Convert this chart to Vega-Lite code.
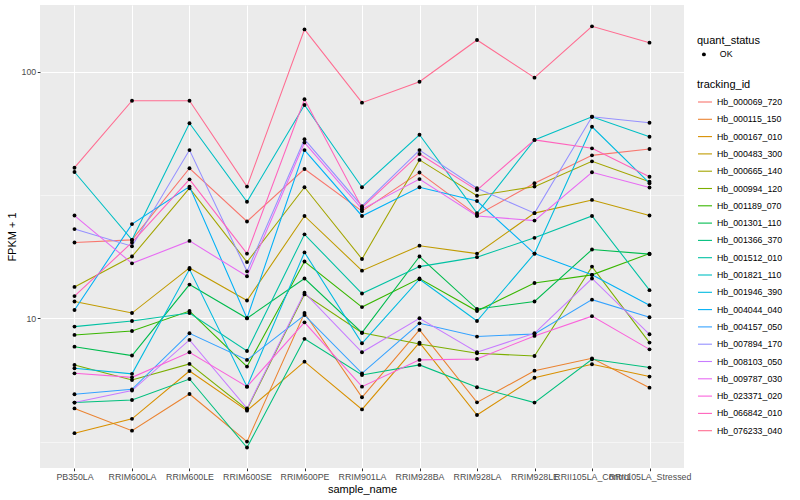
{
"$schema": "https://vega.github.io/schema/vega-lite/v6.json",
"width": 644, "height": 463,
"autosize": {"type": "none"},
"padding": {"left": 40, "top": 5, "right": 116, "bottom": 32},
"background": "white",
"config": {
  "view": {"fill": "#EBEBEB", "stroke": null},
  "font": "Liberation Sans",
  "axis": {"labelFont": "Liberation Sans", "labelFontSize": 8.8, "labelColor": "#4D4D4D", "titleFont": "Liberation Sans", "titleFontSize": 11, "titleFontWeight": "normal", "titleColor": "black", "tickColor": "#333333", "tickSize": 2.75, "tickWidth": 1, "domain": false, "gridColor": "white"},
  "legend": {"labelFont": "Liberation Sans", "labelFontSize": 8.8, "labelColor": "black", "titleFont": "Liberation Sans", "titleFontSize": 11, "titleFontWeight": "normal", "titleColor": "black", "padding": 0, "rowPadding": 4.3, "labelOffset": 4, "titlePadding": 4}
},
"data": {"values": [
{"tracking_id":"Hb_000069_720","sample_name":"PB350LA","fpkm":20.3,"quant_status":"OK"},
{"tracking_id":"Hb_000069_720","sample_name":"RRIM600LA","fpkm":20.8,"quant_status":"OK"},
{"tracking_id":"Hb_000069_720","sample_name":"RRIM600LE","fpkm":40.6,"quant_status":"OK"},
{"tracking_id":"Hb_000069_720","sample_name":"RRIM600SE","fpkm":24.7,"quant_status":"OK"},
{"tracking_id":"Hb_000069_720","sample_name":"RRIM600PE","fpkm":40.3,"quant_status":"OK"},
{"tracking_id":"Hb_000069_720","sample_name":"RRIM901LA","fpkm":27.2,"quant_status":"OK"},
{"tracking_id":"Hb_000069_720","sample_name":"RRIM928BA","fpkm":39.0,"quant_status":"OK"},
{"tracking_id":"Hb_000069_720","sample_name":"RRIM928LA","fpkm":26.2,"quant_status":"OK"},
{"tracking_id":"Hb_000069_720","sample_name":"RRIM928LE","fpkm":35.3,"quant_status":"OK"},
{"tracking_id":"Hb_000069_720","sample_name":"RRII105LA_Control","fpkm":45.8,"quant_status":"OK"},
{"tracking_id":"Hb_000069_720","sample_name":"RRII105LA_Stressed","fpkm":48.6,"quant_status":"OK"},
{"tracking_id":"Hb_000115_150","sample_name":"PB350LA","fpkm":4.31,"quant_status":"OK"},
{"tracking_id":"Hb_000115_150","sample_name":"RRIM600LA","fpkm":3.50,"quant_status":"OK"},
{"tracking_id":"Hb_000115_150","sample_name":"RRIM600LE","fpkm":4.93,"quant_status":"OK"},
{"tracking_id":"Hb_000115_150","sample_name":"RRIM600SE","fpkm":3.16,"quant_status":"OK"},
{"tracking_id":"Hb_000115_150","sample_name":"RRIM600PE","fpkm":10.5,"quant_status":"OK"},
{"tracking_id":"Hb_000115_150","sample_name":"RRIM901LA","fpkm":4.78,"quant_status":"OK"},
{"tracking_id":"Hb_000115_150","sample_name":"RRIM928BA","fpkm":8.97,"quant_status":"OK"},
{"tracking_id":"Hb_000115_150","sample_name":"RRIM928LA","fpkm":4.56,"quant_status":"OK"},
{"tracking_id":"Hb_000115_150","sample_name":"RRIM928LE","fpkm":6.13,"quant_status":"OK"},
{"tracking_id":"Hb_000115_150","sample_name":"RRII105LA_Control","fpkm":6.88,"quant_status":"OK"},
{"tracking_id":"Hb_000115_150","sample_name":"RRII105LA_Stressed","fpkm":5.23,"quant_status":"OK"},
{"tracking_id":"Hb_000167_010","sample_name":"PB350LA","fpkm":3.42,"quant_status":"OK"},
{"tracking_id":"Hb_000167_010","sample_name":"RRIM600LA","fpkm":3.91,"quant_status":"OK"},
{"tracking_id":"Hb_000167_010","sample_name":"RRIM600LE","fpkm":6.11,"quant_status":"OK"},
{"tracking_id":"Hb_000167_010","sample_name":"RRIM600SE","fpkm":4.22,"quant_status":"OK"},
{"tracking_id":"Hb_000167_010","sample_name":"RRIM600PE","fpkm":6.67,"quant_status":"OK"},
{"tracking_id":"Hb_000167_010","sample_name":"RRIM901LA","fpkm":4.27,"quant_status":"OK"},
{"tracking_id":"Hb_000167_010","sample_name":"RRIM928BA","fpkm":7.97,"quant_status":"OK"},
{"tracking_id":"Hb_000167_010","sample_name":"RRIM928LA","fpkm":4.05,"quant_status":"OK"},
{"tracking_id":"Hb_000167_010","sample_name":"RRIM928LE","fpkm":5.74,"quant_status":"OK"},
{"tracking_id":"Hb_000167_010","sample_name":"RRII105LA_Control","fpkm":6.51,"quant_status":"OK"},
{"tracking_id":"Hb_000167_010","sample_name":"RRII105LA_Stressed","fpkm":5.80,"quant_status":"OK"},
{"tracking_id":"Hb_000483_300","sample_name":"PB350LA","fpkm":11.7,"quant_status":"OK"},
{"tracking_id":"Hb_000483_300","sample_name":"RRIM600LA","fpkm":10.5,"quant_status":"OK"},
{"tracking_id":"Hb_000483_300","sample_name":"RRIM600LE","fpkm":16.0,"quant_status":"OK"},
{"tracking_id":"Hb_000483_300","sample_name":"RRIM600SE","fpkm":11.8,"quant_status":"OK"},
{"tracking_id":"Hb_000483_300","sample_name":"RRIM600PE","fpkm":26.0,"quant_status":"OK"},
{"tracking_id":"Hb_000483_300","sample_name":"RRIM901LA","fpkm":15.6,"quant_status":"OK"},
{"tracking_id":"Hb_000483_300","sample_name":"RRIM928BA","fpkm":19.7,"quant_status":"OK"},
{"tracking_id":"Hb_000483_300","sample_name":"RRIM928LA","fpkm":18.3,"quant_status":"OK"},
{"tracking_id":"Hb_000483_300","sample_name":"RRIM928LE","fpkm":26.7,"quant_status":"OK"},
{"tracking_id":"Hb_000483_300","sample_name":"RRII105LA_Control","fpkm":30.2,"quant_status":"OK"},
{"tracking_id":"Hb_000483_300","sample_name":"RRII105LA_Stressed","fpkm":26.1,"quant_status":"OK"},
{"tracking_id":"Hb_000665_140","sample_name":"PB350LA","fpkm":13.4,"quant_status":"OK"},
{"tracking_id":"Hb_000665_140","sample_name":"RRIM600LA","fpkm":17.8,"quant_status":"OK"},
{"tracking_id":"Hb_000665_140","sample_name":"RRIM600LE","fpkm":33.7,"quant_status":"OK"},
{"tracking_id":"Hb_000665_140","sample_name":"RRIM600SE","fpkm":16.9,"quant_status":"OK"},
{"tracking_id":"Hb_000665_140","sample_name":"RRIM600PE","fpkm":34.0,"quant_status":"OK"},
{"tracking_id":"Hb_000665_140","sample_name":"RRIM901LA","fpkm":17.4,"quant_status":"OK"},
{"tracking_id":"Hb_000665_140","sample_name":"RRIM928BA","fpkm":43.9,"quant_status":"OK"},
{"tracking_id":"Hb_000665_140","sample_name":"RRIM928LA","fpkm":31.4,"quant_status":"OK"},
{"tracking_id":"Hb_000665_140","sample_name":"RRIM928LE","fpkm":34.2,"quant_status":"OK"},
{"tracking_id":"Hb_000665_140","sample_name":"RRII105LA_Control","fpkm":43.3,"quant_status":"OK"},
{"tracking_id":"Hb_000665_140","sample_name":"RRII105LA_Stressed","fpkm":35.8,"quant_status":"OK"},
{"tracking_id":"Hb_000994_120","sample_name":"PB350LA","fpkm":6.47,"quant_status":"OK"},
{"tracking_id":"Hb_000994_120","sample_name":"RRIM600LA","fpkm":5.62,"quant_status":"OK"},
{"tracking_id":"Hb_000994_120","sample_name":"RRIM600LE","fpkm":6.53,"quant_status":"OK"},
{"tracking_id":"Hb_000994_120","sample_name":"RRIM600SE","fpkm":4.27,"quant_status":"OK"},
{"tracking_id":"Hb_000994_120","sample_name":"RRIM600PE","fpkm":12.5,"quant_status":"OK"},
{"tracking_id":"Hb_000994_120","sample_name":"RRIM901LA","fpkm":8.74,"quant_status":"OK"},
{"tracking_id":"Hb_000994_120","sample_name":"RRIM928BA","fpkm":7.87,"quant_status":"OK"},
{"tracking_id":"Hb_000994_120","sample_name":"RRIM928LA","fpkm":7.21,"quant_status":"OK"},
{"tracking_id":"Hb_000994_120","sample_name":"RRIM928LE","fpkm":7.03,"quant_status":"OK"},
{"tracking_id":"Hb_000994_120","sample_name":"RRII105LA_Control","fpkm":16.2,"quant_status":"OK"},
{"tracking_id":"Hb_000994_120","sample_name":"RRII105LA_Stressed","fpkm":7.97,"quant_status":"OK"},
{"tracking_id":"Hb_001189_070","sample_name":"PB350LA","fpkm":8.56,"quant_status":"OK"},
{"tracking_id":"Hb_001189_070","sample_name":"RRIM600LA","fpkm":8.88,"quant_status":"OK"},
{"tracking_id":"Hb_001189_070","sample_name":"RRIM600LE","fpkm":10.7,"quant_status":"OK"},
{"tracking_id":"Hb_001189_070","sample_name":"RRIM600SE","fpkm":6.37,"quant_status":"OK"},
{"tracking_id":"Hb_001189_070","sample_name":"RRIM600PE","fpkm":17.0,"quant_status":"OK"},
{"tracking_id":"Hb_001189_070","sample_name":"RRIM901LA","fpkm":11.1,"quant_status":"OK"},
{"tracking_id":"Hb_001189_070","sample_name":"RRIM928BA","fpkm":14.5,"quant_status":"OK"},
{"tracking_id":"Hb_001189_070","sample_name":"RRIM928LA","fpkm":10.7,"quant_status":"OK"},
{"tracking_id":"Hb_001189_070","sample_name":"RRIM928LE","fpkm":13.9,"quant_status":"OK"},
{"tracking_id":"Hb_001189_070","sample_name":"RRII105LA_Control","fpkm":15.0,"quant_status":"OK"},
{"tracking_id":"Hb_001189_070","sample_name":"RRII105LA_Stressed","fpkm":18.3,"quant_status":"OK"},
{"tracking_id":"Hb_001301_110","sample_name":"PB350LA","fpkm":7.67,"quant_status":"OK"},
{"tracking_id":"Hb_001301_110","sample_name":"RRIM600LA","fpkm":7.06,"quant_status":"OK"},
{"tracking_id":"Hb_001301_110","sample_name":"RRIM600LE","fpkm":13.7,"quant_status":"OK"},
{"tracking_id":"Hb_001301_110","sample_name":"RRIM600SE","fpkm":10.0,"quant_status":"OK"},
{"tracking_id":"Hb_001301_110","sample_name":"RRIM600PE","fpkm":14.5,"quant_status":"OK"},
{"tracking_id":"Hb_001301_110","sample_name":"RRIM901LA","fpkm":8.74,"quant_status":"OK"},
{"tracking_id":"Hb_001301_110","sample_name":"RRIM928BA","fpkm":17.8,"quant_status":"OK"},
{"tracking_id":"Hb_001301_110","sample_name":"RRIM928LA","fpkm":10.9,"quant_status":"OK"},
{"tracking_id":"Hb_001301_110","sample_name":"RRIM928LE","fpkm":11.7,"quant_status":"OK"},
{"tracking_id":"Hb_001301_110","sample_name":"RRII105LA_Control","fpkm":19.0,"quant_status":"OK"},
{"tracking_id":"Hb_001301_110","sample_name":"RRII105LA_Stressed","fpkm":18.2,"quant_status":"OK"},
{"tracking_id":"Hb_001366_370","sample_name":"PB350LA","fpkm":4.55,"quant_status":"OK"},
{"tracking_id":"Hb_001366_370","sample_name":"RRIM600LA","fpkm":4.66,"quant_status":"OK"},
{"tracking_id":"Hb_001366_370","sample_name":"RRIM600LE","fpkm":5.67,"quant_status":"OK"},
{"tracking_id":"Hb_001366_370","sample_name":"RRIM600SE","fpkm":2.99,"quant_status":"OK"},
{"tracking_id":"Hb_001366_370","sample_name":"RRIM600PE","fpkm":8.25,"quant_status":"OK"},
{"tracking_id":"Hb_001366_370","sample_name":"RRIM901LA","fpkm":5.89,"quant_status":"OK"},
{"tracking_id":"Hb_001366_370","sample_name":"RRIM928BA","fpkm":6.47,"quant_status":"OK"},
{"tracking_id":"Hb_001366_370","sample_name":"RRIM928LA","fpkm":5.25,"quant_status":"OK"},
{"tracking_id":"Hb_001366_370","sample_name":"RRIM928LE","fpkm":4.55,"quant_status":"OK"},
{"tracking_id":"Hb_001366_370","sample_name":"RRII105LA_Control","fpkm":6.82,"quant_status":"OK"},
{"tracking_id":"Hb_001366_370","sample_name":"RRII105LA_Stressed","fpkm":6.31,"quant_status":"OK"},
{"tracking_id":"Hb_001512_010","sample_name":"PB350LA","fpkm":9.25,"quant_status":"OK"},
{"tracking_id":"Hb_001512_010","sample_name":"RRIM600LA","fpkm":9.75,"quant_status":"OK"},
{"tracking_id":"Hb_001512_010","sample_name":"RRIM600LE","fpkm":10.5,"quant_status":"OK"},
{"tracking_id":"Hb_001512_010","sample_name":"RRIM600SE","fpkm":7.37,"quant_status":"OK"},
{"tracking_id":"Hb_001512_010","sample_name":"RRIM600PE","fpkm":21.9,"quant_status":"OK"},
{"tracking_id":"Hb_001512_010","sample_name":"RRIM901LA","fpkm":12.6,"quant_status":"OK"},
{"tracking_id":"Hb_001512_010","sample_name":"RRIM928BA","fpkm":16.2,"quant_status":"OK"},
{"tracking_id":"Hb_001512_010","sample_name":"RRIM928LA","fpkm":17.7,"quant_status":"OK"},
{"tracking_id":"Hb_001512_010","sample_name":"RRIM928LE","fpkm":21.2,"quant_status":"OK"},
{"tracking_id":"Hb_001512_010","sample_name":"RRII105LA_Control","fpkm":26.0,"quant_status":"OK"},
{"tracking_id":"Hb_001512_010","sample_name":"RRII105LA_Stressed","fpkm":13.0,"quant_status":"OK"},
{"tracking_id":"Hb_001821_110","sample_name":"PB350LA","fpkm":39.2,"quant_status":"OK"},
{"tracking_id":"Hb_001821_110","sample_name":"RRIM600LA","fpkm":20.8,"quant_status":"OK"},
{"tracking_id":"Hb_001821_110","sample_name":"RRIM600LE","fpkm":61.8,"quant_status":"OK"},
{"tracking_id":"Hb_001821_110","sample_name":"RRIM600SE","fpkm":29.7,"quant_status":"OK"},
{"tracking_id":"Hb_001821_110","sample_name":"RRIM600PE","fpkm":73.3,"quant_status":"OK"},
{"tracking_id":"Hb_001821_110","sample_name":"RRIM901LA","fpkm":34.0,"quant_status":"OK"},
{"tracking_id":"Hb_001821_110","sample_name":"RRIM928BA","fpkm":55.5,"quant_status":"OK"},
{"tracking_id":"Hb_001821_110","sample_name":"RRIM928LA","fpkm":26.7,"quant_status":"OK"},
{"tracking_id":"Hb_001821_110","sample_name":"RRIM928LE","fpkm":52.9,"quant_status":"OK"},
{"tracking_id":"Hb_001821_110","sample_name":"RRII105LA_Control","fpkm":65.7,"quant_status":"OK"},
{"tracking_id":"Hb_001821_110","sample_name":"RRII105LA_Stressed","fpkm":54.5,"quant_status":"OK"},
{"tracking_id":"Hb_001946_390","sample_name":"PB350LA","fpkm":6.27,"quant_status":"OK"},
{"tracking_id":"Hb_001946_390","sample_name":"RRIM600LA","fpkm":5.95,"quant_status":"OK"},
{"tracking_id":"Hb_001946_390","sample_name":"RRIM600LE","fpkm":15.8,"quant_status":"OK"},
{"tracking_id":"Hb_001946_390","sample_name":"RRIM600SE","fpkm":5.28,"quant_status":"OK"},
{"tracking_id":"Hb_001946_390","sample_name":"RRIM600PE","fpkm":18.5,"quant_status":"OK"},
{"tracking_id":"Hb_001946_390","sample_name":"RRIM901LA","fpkm":7.92,"quant_status":"OK"},
{"tracking_id":"Hb_001946_390","sample_name":"RRIM928BA","fpkm":14.4,"quant_status":"OK"},
{"tracking_id":"Hb_001946_390","sample_name":"RRIM928LA","fpkm":9.75,"quant_status":"OK"},
{"tracking_id":"Hb_001946_390","sample_name":"RRIM928LE","fpkm":18.3,"quant_status":"OK"},
{"tracking_id":"Hb_001946_390","sample_name":"RRII105LA_Control","fpkm":59.8,"quant_status":"OK"},
{"tracking_id":"Hb_001946_390","sample_name":"RRII105LA_Stressed","fpkm":35.3,"quant_status":"OK"},
{"tracking_id":"Hb_004044_040","sample_name":"PB350LA","fpkm":10.8,"quant_status":"OK"},
{"tracking_id":"Hb_004044_040","sample_name":"RRIM600LA","fpkm":24.1,"quant_status":"OK"},
{"tracking_id":"Hb_004044_040","sample_name":"RRIM600LE","fpkm":34.2,"quant_status":"OK"},
{"tracking_id":"Hb_004044_040","sample_name":"RRIM600SE","fpkm":10.0,"quant_status":"OK"},
{"tracking_id":"Hb_004044_040","sample_name":"RRIM600PE","fpkm":48.1,"quant_status":"OK"},
{"tracking_id":"Hb_004044_040","sample_name":"RRIM901LA","fpkm":26.0,"quant_status":"OK"},
{"tracking_id":"Hb_004044_040","sample_name":"RRIM928BA","fpkm":34.0,"quant_status":"OK"},
{"tracking_id":"Hb_004044_040","sample_name":"RRIM928LA","fpkm":29.9,"quant_status":"OK"},
{"tracking_id":"Hb_004044_040","sample_name":"RRIM928LE","fpkm":18.3,"quant_status":"OK"},
{"tracking_id":"Hb_004044_040","sample_name":"RRII105LA_Control","fpkm":15.0,"quant_status":"OK"},
{"tracking_id":"Hb_004044_040","sample_name":"RRII105LA_Stressed","fpkm":11.3,"quant_status":"OK"},
{"tracking_id":"Hb_004157_050","sample_name":"PB350LA","fpkm":4.92,"quant_status":"OK"},
{"tracking_id":"Hb_004157_050","sample_name":"RRIM600LA","fpkm":5.15,"quant_status":"OK"},
{"tracking_id":"Hb_004157_050","sample_name":"RRIM600LE","fpkm":8.69,"quant_status":"OK"},
{"tracking_id":"Hb_004157_050","sample_name":"RRIM600SE","fpkm":6.78,"quant_status":"OK"},
{"tracking_id":"Hb_004157_050","sample_name":"RRIM600PE","fpkm":10.3,"quant_status":"OK"},
{"tracking_id":"Hb_004157_050","sample_name":"RRIM901LA","fpkm":5.98,"quant_status":"OK"},
{"tracking_id":"Hb_004157_050","sample_name":"RRIM928BA","fpkm":9.54,"quant_status":"OK"},
{"tracking_id":"Hb_004157_050","sample_name":"RRIM928LA","fpkm":8.43,"quant_status":"OK"},
{"tracking_id":"Hb_004157_050","sample_name":"RRIM928LE","fpkm":8.64,"quant_status":"OK"},
{"tracking_id":"Hb_004157_050","sample_name":"RRII105LA_Control","fpkm":11.9,"quant_status":"OK"},
{"tracking_id":"Hb_004157_050","sample_name":"RRII105LA_Stressed","fpkm":10.1,"quant_status":"OK"},
{"tracking_id":"Hb_007894_170","sample_name":"PB350LA","fpkm":23.0,"quant_status":"OK"},
{"tracking_id":"Hb_007894_170","sample_name":"RRIM600LA","fpkm":19.6,"quant_status":"OK"},
{"tracking_id":"Hb_007894_170","sample_name":"RRIM600LE","fpkm":48.1,"quant_status":"OK"},
{"tracking_id":"Hb_007894_170","sample_name":"RRIM600SE","fpkm":15.5,"quant_status":"OK"},
{"tracking_id":"Hb_007894_170","sample_name":"RRIM600PE","fpkm":53.2,"quant_status":"OK"},
{"tracking_id":"Hb_007894_170","sample_name":"RRIM901LA","fpkm":28.5,"quant_status":"OK"},
{"tracking_id":"Hb_007894_170","sample_name":"RRIM928BA","fpkm":48.1,"quant_status":"OK"},
{"tracking_id":"Hb_007894_170","sample_name":"RRIM928LA","fpkm":33.7,"quant_status":"OK"},
{"tracking_id":"Hb_007894_170","sample_name":"RRIM928LE","fpkm":26.7,"quant_status":"OK"},
{"tracking_id":"Hb_007894_170","sample_name":"RRII105LA_Control","fpkm":65.7,"quant_status":"OK"},
{"tracking_id":"Hb_007894_170","sample_name":"RRII105LA_Stressed","fpkm":62.1,"quant_status":"OK"},
{"tracking_id":"Hb_008103_050","sample_name":"PB350LA","fpkm":4.55,"quant_status":"OK"},
{"tracking_id":"Hb_008103_050","sample_name":"RRIM600LA","fpkm":5.09,"quant_status":"OK"},
{"tracking_id":"Hb_008103_050","sample_name":"RRIM600LE","fpkm":8.17,"quant_status":"OK"},
{"tracking_id":"Hb_008103_050","sample_name":"RRIM600SE","fpkm":4.31,"quant_status":"OK"},
{"tracking_id":"Hb_008103_050","sample_name":"RRIM600PE","fpkm":12.7,"quant_status":"OK"},
{"tracking_id":"Hb_008103_050","sample_name":"RRIM901LA","fpkm":7.28,"quant_status":"OK"},
{"tracking_id":"Hb_008103_050","sample_name":"RRIM928BA","fpkm":10.0,"quant_status":"OK"},
{"tracking_id":"Hb_008103_050","sample_name":"RRIM928LA","fpkm":7.28,"quant_status":"OK"},
{"tracking_id":"Hb_008103_050","sample_name":"RRIM928LE","fpkm":8.69,"quant_status":"OK"},
{"tracking_id":"Hb_008103_050","sample_name":"RRII105LA_Control","fpkm":14.5,"quant_status":"OK"},
{"tracking_id":"Hb_008103_050","sample_name":"RRII105LA_Stressed","fpkm":8.61,"quant_status":"OK"},
{"tracking_id":"Hb_009787_030","sample_name":"PB350LA","fpkm":26.1,"quant_status":"OK"},
{"tracking_id":"Hb_009787_030","sample_name":"RRIM600LA","fpkm":16.7,"quant_status":"OK"},
{"tracking_id":"Hb_009787_030","sample_name":"RRIM600LE","fpkm":20.6,"quant_status":"OK"},
{"tracking_id":"Hb_009787_030","sample_name":"RRIM600SE","fpkm":14.8,"quant_status":"OK"},
{"tracking_id":"Hb_009787_030","sample_name":"RRIM600PE","fpkm":51.6,"quant_status":"OK"},
{"tracking_id":"Hb_009787_030","sample_name":"RRIM901LA","fpkm":27.7,"quant_status":"OK"},
{"tracking_id":"Hb_009787_030","sample_name":"RRIM928BA","fpkm":36.7,"quant_status":"OK"},
{"tracking_id":"Hb_009787_030","sample_name":"RRIM928LA","fpkm":26.0,"quant_status":"OK"},
{"tracking_id":"Hb_009787_030","sample_name":"RRIM928LE","fpkm":24.9,"quant_status":"OK"},
{"tracking_id":"Hb_009787_030","sample_name":"RRII105LA_Control","fpkm":39.1,"quant_status":"OK"},
{"tracking_id":"Hb_009787_030","sample_name":"RRII105LA_Stressed","fpkm":33.9,"quant_status":"OK"},
{"tracking_id":"Hb_023371_020","sample_name":"PB350LA","fpkm":5.98,"quant_status":"OK"},
{"tracking_id":"Hb_023371_020","sample_name":"RRIM600LA","fpkm":5.76,"quant_status":"OK"},
{"tracking_id":"Hb_023371_020","sample_name":"RRIM600LE","fpkm":7.28,"quant_status":"OK"},
{"tracking_id":"Hb_023371_020","sample_name":"RRIM600SE","fpkm":5.28,"quant_status":"OK"},
{"tracking_id":"Hb_023371_020","sample_name":"RRIM600PE","fpkm":9.63,"quant_status":"OK"},
{"tracking_id":"Hb_023371_020","sample_name":"RRIM901LA","fpkm":5.28,"quant_status":"OK"},
{"tracking_id":"Hb_023371_020","sample_name":"RRIM928BA","fpkm":6.78,"quant_status":"OK"},
{"tracking_id":"Hb_023371_020","sample_name":"RRIM928LA","fpkm":6.84,"quant_status":"OK"},
{"tracking_id":"Hb_023371_020","sample_name":"RRIM928LE","fpkm":8.48,"quant_status":"OK"},
{"tracking_id":"Hb_023371_020","sample_name":"RRII105LA_Control","fpkm":10.2,"quant_status":"OK"},
{"tracking_id":"Hb_023371_020","sample_name":"RRII105LA_Stressed","fpkm":7.48,"quant_status":"OK"},
{"tracking_id":"Hb_066842_010","sample_name":"PB350LA","fpkm":12.3,"quant_status":"OK"},
{"tracking_id":"Hb_066842_010","sample_name":"RRIM600LA","fpkm":20.3,"quant_status":"OK"},
{"tracking_id":"Hb_066842_010","sample_name":"RRIM600LE","fpkm":36.6,"quant_status":"OK"},
{"tracking_id":"Hb_066842_010","sample_name":"RRIM600SE","fpkm":18.3,"quant_status":"OK"},
{"tracking_id":"Hb_066842_010","sample_name":"RRIM600PE","fpkm":77.3,"quant_status":"OK"},
{"tracking_id":"Hb_066842_010","sample_name":"RRIM901LA","fpkm":28.1,"quant_status":"OK"},
{"tracking_id":"Hb_066842_010","sample_name":"RRIM928BA","fpkm":46.4,"quant_status":"OK"},
{"tracking_id":"Hb_066842_010","sample_name":"RRIM928LA","fpkm":33.1,"quant_status":"OK"},
{"tracking_id":"Hb_066842_010","sample_name":"RRIM928LE","fpkm":52.9,"quant_status":"OK"},
{"tracking_id":"Hb_066842_010","sample_name":"RRII105LA_Control","fpkm":48.9,"quant_status":"OK"},
{"tracking_id":"Hb_066842_010","sample_name":"RRII105LA_Stressed","fpkm":37.5,"quant_status":"OK"},
{"tracking_id":"Hb_076233_040","sample_name":"PB350LA","fpkm":40.8,"quant_status":"OK"},
{"tracking_id":"Hb_076233_040","sample_name":"RRIM600LA","fpkm":76.3,"quant_status":"OK"},
{"tracking_id":"Hb_076233_040","sample_name":"RRIM600LE","fpkm":76.3,"quant_status":"OK"},
{"tracking_id":"Hb_076233_040","sample_name":"RRIM600SE","fpkm":34.2,"quant_status":"OK"},
{"tracking_id":"Hb_076233_040","sample_name":"RRIM600PE","fpkm":148.5,"quant_status":"OK"},
{"tracking_id":"Hb_076233_040","sample_name":"RRIM901LA","fpkm":74.9,"quant_status":"OK"},
{"tracking_id":"Hb_076233_040","sample_name":"RRIM928BA","fpkm":91.1,"quant_status":"OK"},
{"tracking_id":"Hb_076233_040","sample_name":"RRIM928LA","fpkm":134.5,"quant_status":"OK"},
{"tracking_id":"Hb_076233_040","sample_name":"RRIM928LE","fpkm":94.6,"quant_status":"OK"},
{"tracking_id":"Hb_076233_040","sample_name":"RRII105LA_Control","fpkm":152.8,"quant_status":"OK"},
{"tracking_id":"Hb_076233_040","sample_name":"RRII105LA_Stressed","fpkm":131.2,"quant_status":"OK"}
]},
"layer": [
  {"mark": {"type": "line", "strokeWidth": 1.07},
   "encoding": {
     "x": {"field": "sample_name", "type": "nominal", "sort": ["PB350LA","RRIM600LA","RRIM600LE","RRIM600SE","RRIM600PE","RRIM901LA","RRIM928BA","RRIM928LA","RRIM928LE","RRII105LA_Control","RRII105LA_Stressed"], "scale": {"type": "point", "padding": 0.6}, "axis": {"title": "sample_name", "labelAngle": 0, "grid": true, "gridWidth": 1.07, "labelOverlap": false, "labelPadding": 1.5, "titlePadding": 2, "labelLimit": 300}},
     "y": {"field": "fpkm", "type": "quantitative", "scale": {"type": "log", "domain": [2.47, 186.5], "nice": false}, "axis": {"title": "FPKM + 1", "values": [10, 100], "format": "d", "grid": true, "gridWidth": 1.07, "labelPadding": 1.5, "titlePadding": 4, "orient": "left"}},
     "color": {"field": "tracking_id", "type": "nominal",
       "scale": {"domain": ["Hb_000069_720","Hb_000115_150","Hb_000167_010","Hb_000483_300","Hb_000665_140","Hb_000994_120","Hb_001189_070","Hb_001301_110","Hb_001366_370","Hb_001512_010","Hb_001821_110","Hb_001946_390","Hb_004044_040","Hb_004157_050","Hb_007894_170","Hb_008103_050","Hb_009787_030","Hb_023371_020","Hb_066842_010","Hb_076233_040"],
                 "range": ["#F8766D","#EA8331","#D89000","#C09B00","#A3A500","#7CAE00","#39B600","#00BB4E","#00BF7D","#00C1A3","#00BFC4","#00BAE0","#00B0F6","#35A2FF","#9590FF","#C77CFF","#E76BF3","#FA62DB","#FF62BC","#FF6C91"]},
       "legend": {"title": "tracking_id", "orient": "none", "legendX": 657, "legendY": 74, "symbolType": "stroke", "symbolSize": 196, "symbolStrokeWidth": 1.1, "labelLimit": 200}}
   }},
  {"mark": {"type": "point", "filled": true, "size": 15, "color": "black", "opacity": 1},
   "encoding": {
     "x": {"field": "sample_name", "type": "nominal", "sort": ["PB350LA","RRIM600LA","RRIM600LE","RRIM600SE","RRIM600PE","RRIM901LA","RRIM928BA","RRIM928LA","RRIM928LE","RRII105LA_Control","RRII105LA_Stressed"]},
     "y": {"field": "fpkm", "type": "quantitative", "axis": {"values": [3.1623, 31.623], "grid": true, "gridWidth": 0.53, "labels": false, "ticks": false, "title": null, "orient": "left"}},
     "shape": {"field": "quant_status", "type": "nominal", "scale": {"domain": ["OK"], "range": ["circle"]},
       "legend": {"title": "quant_status", "orient": "none", "legendX": 657, "legendY": 30, "symbolSize": 15, "symbolFillColor": "black", "symbolStrokeColor": "black", "symbolOffset": 2.5, "labelOffset": 11.5}}
   }}
],
"resolve": {"axis": {"y": "independent"}}
}
